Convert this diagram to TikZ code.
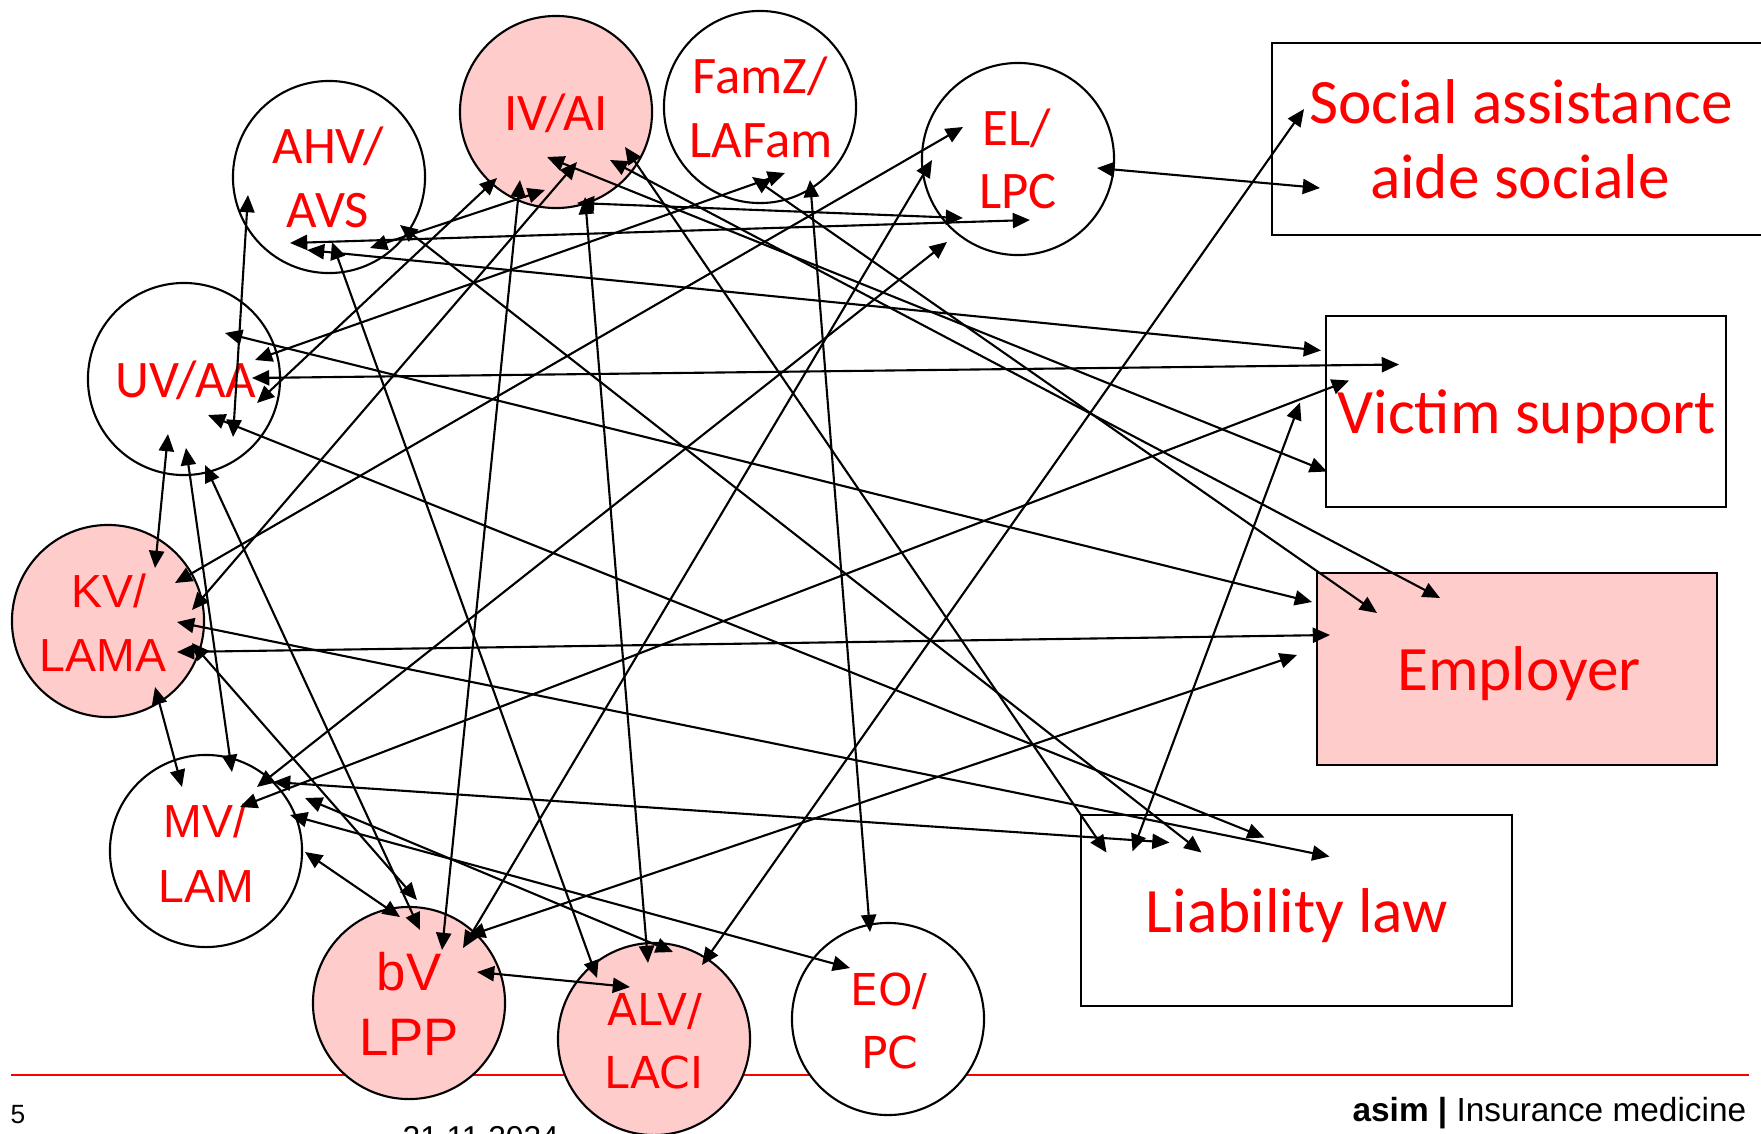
\documentclass[tikz,border=0pt]{standalone}
\usepackage{fontspec}
\setmainfont{Liberation Sans}
\newfontfamily\fcarl{Carlito}
\newfontfamily\farial{Liberation Sans}
\newfontfamily\fdeja{DejaVu Sans}
\usetikzlibrary{arrows.meta}
\definecolor{pinkfill}{RGB}{255,204,204}
\definecolor{labred}{RGB}{255,0,0}
\newcommand\lnk[4]{\draw[edge] ([shift={#2}]#1.center) -- ([shift={#4}]#3.center);}
\tikzset{
  >={Triangle[length=4.9pt,width=4.3pt]},
  circ/.style={circle, draw, line width=0.6pt, minimum size=1.92cm, inner sep=0pt},
  whitec/.style={circ, fill=white},
  pinkc/.style={circ, fill=pinkfill},
  box/.style={rectangle, draw, line width=0.65pt, inner sep=0pt},
  lbl/.style={anchor=base, text=labred, inner sep=0pt, outer sep=0pt},
  cfont/.style={font=\fcarl\fontsize{15}{17}\selectfont},
  bfont/.style={font=\fcarl\fontsize{18}{21}\selectfont},
  afont/.style={font=\farial\fontsize{13.2}{16}\selectfont},
  bvfont/.style={font=\farial\fontsize{15}{18}\selectfont},
  dfont/.style={font=\fdeja\fontsize{12.5}{15}\selectfont},
  edge/.style={<->, line width=0.6pt},
}
\begin{document}
\begin{tikzpicture}[x=0.01cm, y=-0.01cm]
\useasboundingbox (0,0) rectangle (1761,1133);
% footer line (behind circles)
\coordinate (fl) at (11,1075);
\coordinate (fr) at (1749,1075);
\draw[labred, line width=0.55pt] (fl) -- (fr);
% circles
\node[whitec] (ahv) at (329,177) {};
\node[pinkc] (iv) at (556,112) {};
\node[whitec] (famz) at (760,107) {};
\node[whitec] (el) at (1018,159) {};
\node[whitec] (uv) at (184,379) {};
\node[pinkc] (kv) at (108,621) {};
\node[whitec] (mv) at (206,851) {};
\node[pinkc] (bv) at (409,1003) {};
\node[pinkc] (alv) at (654,1039) {};
\node[whitec] (eo) at (888,1019) {};
% boxes
\node[box, minimum width=5.18cm, minimum height=1.92cm] (social) at (1531,139) {};
\node[box, minimum width=4.00cm, minimum height=1.91cm] (victim) at (1526,411.5) {};
\node[box, fill=pinkfill, minimum width=4.00cm, minimum height=1.92cm] (employer) at (1517,669) {};
\node[box, minimum width=4.31cm, minimum height=1.91cm] (liab) at (1296.5,910.5) {};
% circle labels
\node[lbl, cfont] (ahvA) at (328,163) {AHV/};
\node[lbl, cfont] (ahvB) at (328,227) {AVS};
\node[lbl, cfont] (ivA) at (556,130) {IV/AI};
\node[lbl, cfont] (famzA) at (760,93) {FamZ/};
\node[lbl, cfont] (famzB) at (761,157) {LAFam};
\node[lbl, cfont] (elA) at (1017,145) {EL/};
\node[lbl, cfont] (elB) at (1018,208) {LPC};
\node[lbl, cfont] (uvA) at (186,397) {UV/AA};
\node[lbl, afont] (kvA) at (109,607) {KV/};
\node[lbl, afont] (kvB) at (103,671) {LAMA};
\node[lbl, afont] (mvA) at (205,837) {MV/};
\node[lbl, afont] (mvB) at (206,902) {LAM};
\node[lbl, bvfont] (bvA) at (409,990) {bV};
\node[lbl, bvfont] (bvB) at (409,1055) {LPP};
\node[lbl, dfont] (alvA) at (655,1025) {ALV/};
\node[lbl, dfont] (alvB) at (654,1088) {LACI};
\node[lbl, dfont] (eoA) at (889,1005) {EO/};
\node[lbl, dfont] (eoB) at (890,1068) {PC};
% box labels
\node[lbl, bfont] (socA) at (1521,123) {Social assistance};
\node[lbl, bfont] (socB) at (1520,198) {aide sociale};
\node[lbl, bfont] (vicA) at (1527,433) {Victim support};
\node[lbl, bfont] (empA) at (1519,690) {Employer};
\node[lbl, bfont] (liaA) at (1297,932) {Liability law};
% footer texts
\node[anchor=base west, inner sep=0pt, font=\farial\fontsize{7.5}{9}\selectfont] (pg) at (10,1123) {5};
\node[anchor=base west, inner sep=0pt, font=\farial\fontsize{9}{11}\selectfont] (dt) at (402,1148) {21.11.2024};
\node[anchor=base east, inner sep=0pt, font=\farial\fontsize{9.5}{11}\selectfont] (ft) at (1747,1121) {\textbf{asim |} Insurance medicine};
% connectors
\lnk{el}{(79,9)}{social}{(-211,49)}
\lnk{social}{(-227,-30)}{alv}{(48,-74)}
\lnk{ahv}{(-81,18)}{uv}{(49,58)}
\lnk{ahv}{(-39,66)}{el}{(12,61)}
\lnk{ahv}{(-22,73)}{victim}{(-205,-61)}
\lnk{ahv}{(3,65)}{alv}{(-57,-61)}
\lnk{ahv}{(41,71)}{iv}{(-11,78)}
\lnk{ahv}{(71,48)}{liab}{(-95,-58)}
\lnk{uv}{(41,-46)}{employer}{(-205,-67)}
\lnk{uv}{(71,-19)}{famz}{(25,66)}
\lnk{uv}{(68,-1)}{victim}{(-127,-47)}
\lnk{uv}{(73,24)}{iv}{(-59,66)}
\lnk{uv}{(24,36)}{liab}{(-32,-73)}
\lnk{uv}{(-16,55)}{kv}{(47,-53)}
\lnk{uv}{(2,69)}{mv}{(26,-79)}
\lnk{uv}{(21,86)}{bv}{(11,-73)}
\lnk{iv}{(-36,68)}{bv}{(33,-53)}
\lnk{iv}{(-9,45)}{victim}{(-199,60)}
\lnk{iv}{(21,50)}{kv}{(84,-11)}
\lnk{iv}{(29,85)}{alv}{(-6,-76)}
\lnk{iv}{(21,91)}{el}{(-55,59)}
\lnk{iv}{(54,48)}{employer}{(-77,-71)}
\lnk{iv}{(69,35)}{liab}{(-190,-58)}
\lnk{famz}{(-8,70)}{employer}{(-140,-56)}
\lnk{famz}{(50,73)}{eo}{(-18,-87)}
\lnk{el}{(-55,-32)}{kv}{(67,-38)}
\lnk{el}{(-86,1)}{bv}{(54,-55)}
\lnk{el}{(-71,83)}{mv}{(51,-64)}
\lnk{kv}{(69,1)}{liab}{(33,-54)}
\lnk{kv}{(69,31)}{employer}{(-187,-34)}
\lnk{kv}{(84,22)}{bv}{(8,-103)}
\lnk{kv}{(47,66)}{mv}{(-24,-64)}
\lnk{mv}{(67,-69)}{liab}{(-127,-68)}
\lnk{mv}{(34,-44)}{victim}{(-177,-31)}
\lnk{mv}{(99,-53)}{alv}{(19,-87)}
\lnk{mv}{(84,-36)}{eo}{(-38,-51)}
\lnk{mv}{(99,1)}{bv}{(-9,-86)}
\lnk{bv}{(59,-67)}{employer}{(-220,-14)}
\lnk{bv}{(68,-31)}{alv}{(-24,-52)}
\lnk{victim}{(-226,-9)}{liab}{(-164,-59)}
\end{tikzpicture}
\end{document}
